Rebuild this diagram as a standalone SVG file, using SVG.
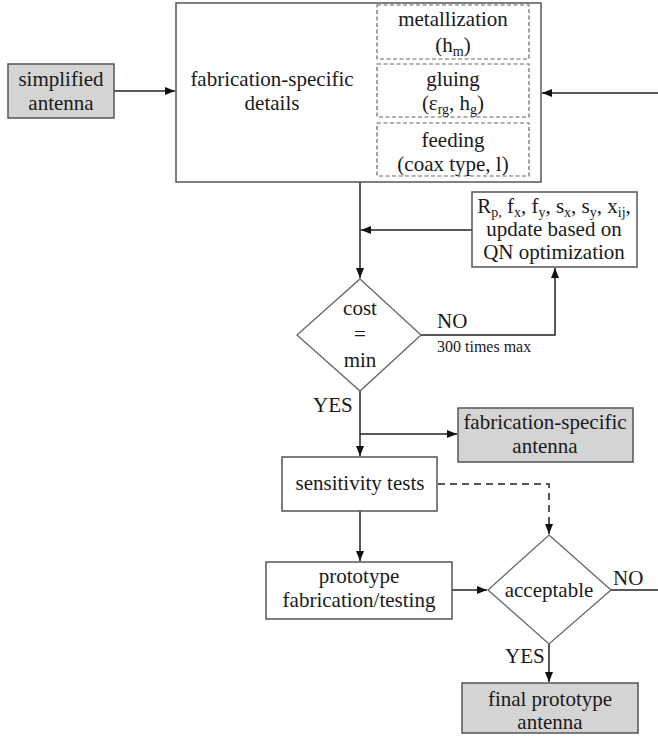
<svg xmlns="http://www.w3.org/2000/svg" width="658" height="738" viewBox="0 0 658 738">
<style>
text{font-family:"Liberation Serif","Times New Roman",serif;font-size:21px;fill:#1a1a1a;text-anchor:middle}
.sub{font-size:14px}
.small{font-size:16px;text-anchor:start}
.lbl{text-anchor:start}
.box{fill:#fff;stroke:#555;stroke-width:1.5}
.gbox{fill:#d4d4d4;stroke:#555;stroke-width:1.5}
.dbox{fill:none;stroke:#666;stroke-width:1.2;stroke-dasharray:4,2.5}
.dia{fill:#fff;stroke:#666;stroke-width:1.3}
.ln{fill:none;stroke:#222;stroke-width:1.5}
.dash{fill:none;stroke:#222;stroke-width:1.5;stroke-dasharray:7,5}
</style>
<defs>
<marker id="ah" markerUnits="userSpaceOnUse" markerWidth="10" markerHeight="8" refX="10" refY="4" orient="auto">
<path d="M0,0 L10,4 L0,8 z" fill="#111"/>
</marker>
</defs>
<rect width="658" height="738" fill="#fff"/>

<g id="connectors">
<path class="ln" d="M114,91 H175" marker-end="url(#ah)"/>
<path class="ln" d="M658,93 H542" marker-end="url(#ah)"/>
<path class="ln" d="M360,182 V278" marker-end="url(#ah)"/>
<path class="ln" d="M472,230 H361" marker-end="url(#ah)"/>
<path class="ln" d="M421,335 H555 V268" marker-end="url(#ah)"/>
<path class="ln" d="M360,391 V456" marker-end="url(#ah)"/>
<path class="ln" d="M360,434 H457" marker-end="url(#ah)"/>
<path class="ln" d="M360,511 V561" marker-end="url(#ah)"/>
<path class="dash" d="M438,484 H549 V534" marker-end="url(#ah)"/>
<path class="ln" d="M452,590 H487" marker-end="url(#ah)"/>
<path class="ln" d="M611,590 H658"/>
<path class="ln" d="M549,643 V682" marker-end="url(#ah)"/>
</g>

<g id="simplified">
<rect class="gbox" x="8" y="64" width="106" height="54"/>
<text x="61" y="86">simplified</text>
<text x="61" y="110">antenna</text>
</g>

<g id="main">
<rect class="box" x="176" y="3" width="365" height="179"/>
<text x="272" y="86">fabrication-specific</text>
<text x="272" y="110">details</text>
</g>

<g id="metallization">
<rect class="dbox" x="377" y="5" width="152" height="54"/>
<text x="453" y="26">metallization</text>
<text x="453" y="52">(h<tspan class="sub" baseline-shift="-4">m</tspan>)</text>
</g>

<g id="gluing">
<rect class="dbox" x="377" y="64" width="152" height="53"/>
<text x="453" y="86">gluing</text>
<text x="453" y="110">(ε<tspan class="sub" baseline-shift="-4">rg</tspan>, h<tspan class="sub" baseline-shift="-4">g</tspan>)</text>
</g>

<g id="feeding">
<rect class="dbox" x="377" y="123" width="152" height="53"/>
<text x="453" y="147">feeding</text>
<text x="453" y="171">(coax type, l)</text>
</g>

<g id="update">
<rect class="box" x="472" y="192" width="165" height="75"/>
<text x="554" y="213">R<tspan class="sub" baseline-shift="-4">p,</tspan> f<tspan class="sub" baseline-shift="-4">x</tspan>, f<tspan class="sub" baseline-shift="-4">y</tspan>, s<tspan class="sub" baseline-shift="-4">x</tspan>, s<tspan class="sub" baseline-shift="-4">y</tspan>, x<tspan class="sub" baseline-shift="-4">ij</tspan>,</text>
<text x="554" y="236">update based on</text>
<text x="554" y="259">QN optimization</text>
</g>

<g id="cost">
<polygon class="dia" points="360,279 421,335 360,391 297,335"/>
<text x="360" y="315">cost</text>
<text x="360" y="341">=</text>
<text x="360" y="367">min</text>
<text class="lbl" x="437" y="328">NO</text>
<text class="small" x="437" y="352">300 times max</text>
<text class="lbl" x="313" y="412">YES</text>
</g>

<g id="fabantenna">
<rect class="gbox" x="458" y="408" width="175" height="54"/>
<text x="545" y="429">fabrication-specific</text>
<text x="545" y="453">antenna</text>
</g>

<g id="sensitivity">
<rect class="box" x="282" y="457" width="155" height="54"/>
<text x="360" y="490">sensitivity tests</text>
</g>

<g id="prototype">
<rect class="box" x="266" y="562" width="186" height="57"/>
<text x="359" y="583">prototype</text>
<text x="359" y="607">fabrication/testing</text>
</g>

<g id="acceptable">
<polygon class="dia" points="549,535 611,590 549,644 488,590"/>
<text x="549" y="597">acceptable</text>
<text class="lbl" x="613" y="585">NO</text>
<text class="lbl" x="505" y="663">YES</text>
</g>

<g id="final">
<rect class="gbox" x="462" y="683" width="176" height="50"/>
<text x="550" y="706">final prototype</text>
<text x="550" y="729">antenna</text>
</g>
</svg>
